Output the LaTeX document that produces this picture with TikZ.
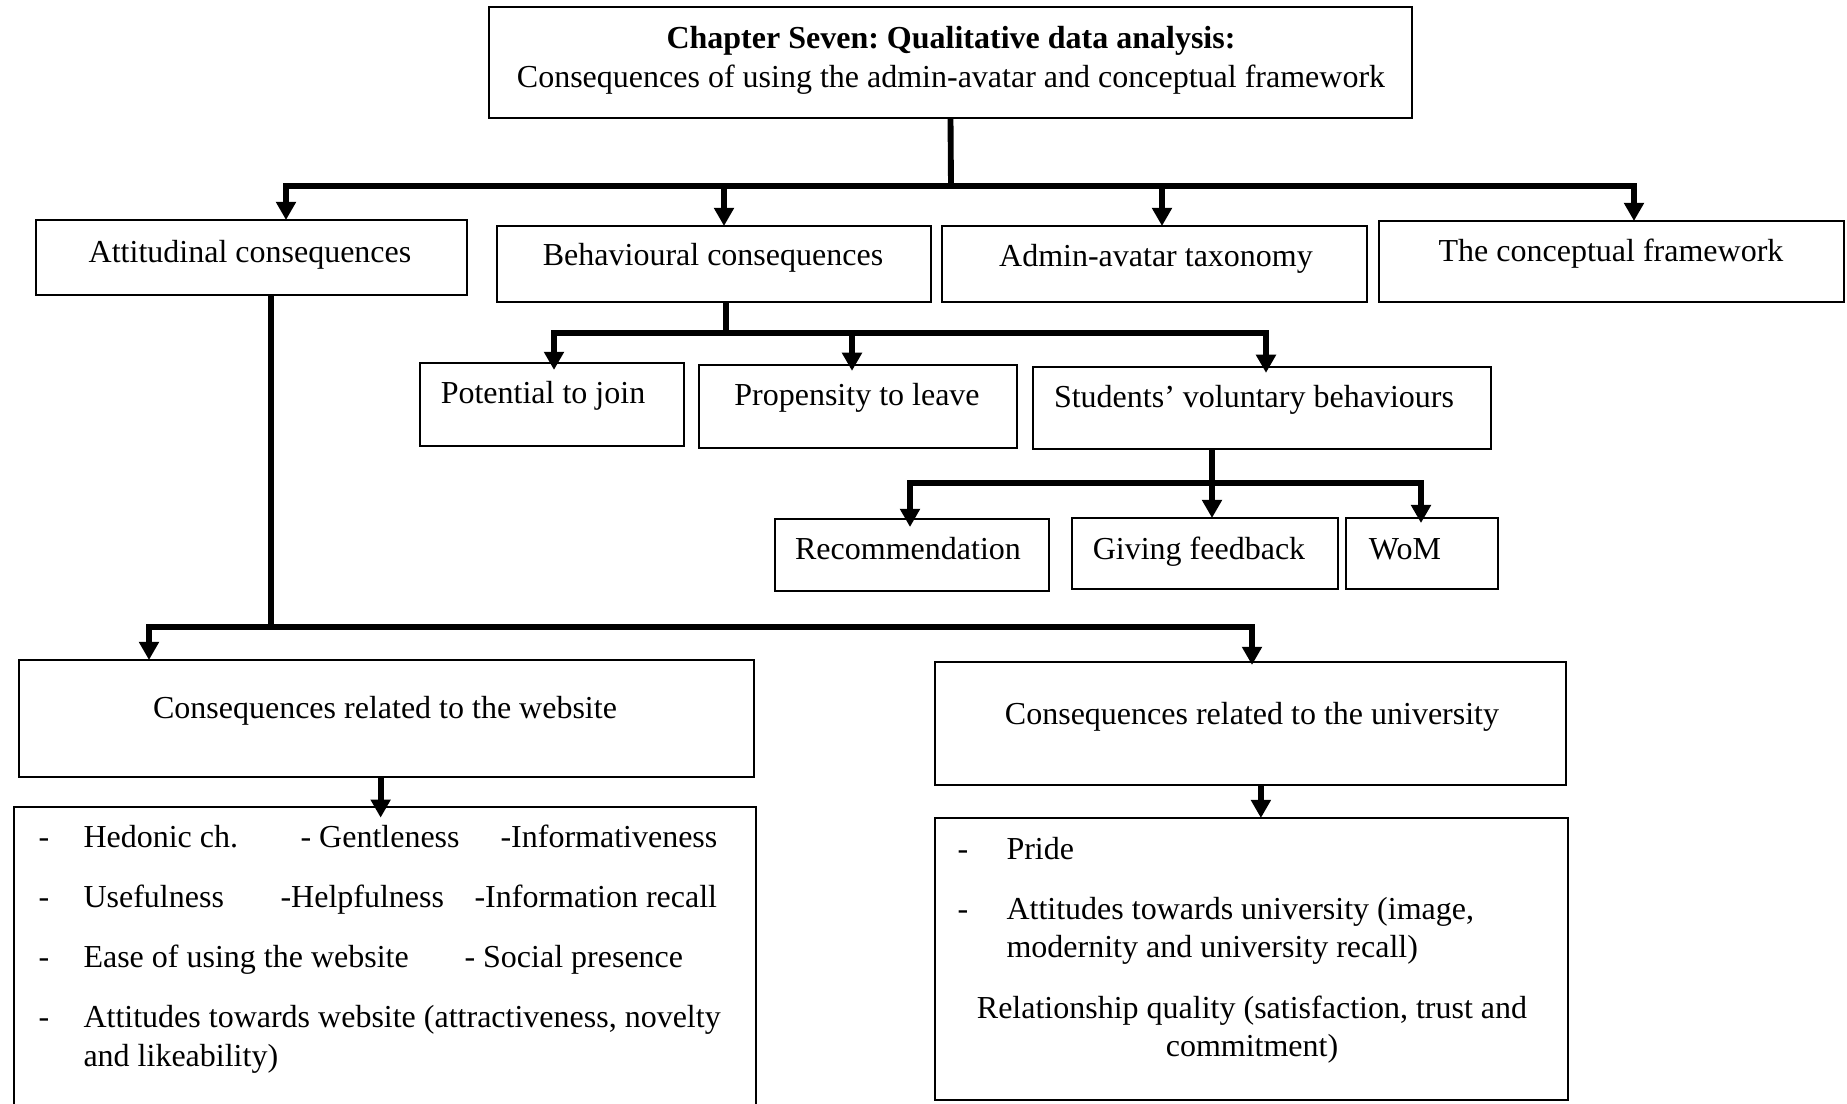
\documentclass[tikz,border=0pt]{standalone}
\usepackage{fontspec}
\setmainfont{Liberation Serif}
\usetikzlibrary{arrows.meta,fit}
\frenchspacing
\begin{document}
\begin{tikzpicture}[x=0.375pt,y=-0.375pt,
  box/.style={draw,line width=0.8pt,inner sep=0pt,outer sep=0pt,rectangle},
  lbl/.style={inner sep=0pt,anchor=base,font=\fontsize{12pt}{14pt}\selectfont},
  lbll/.style={lbl,anchor=base west},
  link/.style={line width=2.2pt},
  arr/.style={link,-{Triangle[width=7.2pt,length=6.8pt]}},
]
\clip (0,0) rectangle (1847,1104);
\fill[white] (0,0) rectangle (1847,1104);

% boxes
\node[box,fit={(489,7) (1412,118)}] (top) {};
\node[box,fit={(36,220) (467,295)}] (att) {};
\node[box,fit={(497,226) (931,302)}] (beh) {};
\node[box,fit={(942,226) (1367,302)}] (adm) {};
\node[box,fit={(1379,221) (1844,302)}] (cfw) {};
\node[box,fit={(420,363) (684,446)}] (pot) {};
\node[box,fit={(699,365) (1017,448)}] (prop) {};
\node[box,fit={(1033,367) (1491,449)}] (stud) {};
\node[box,fit={(775,519) (1049,591)}] (rec) {};
\node[box,fit={(1072,518) (1338,589)}] (fb) {};
\node[box,fit={(1346,518) (1498,589)}] (wom) {};
\node[box,fit={(19,660) (754,777)}] (web) {};
\node[box,fit={(935,662) (1566,785)}] (uni) {};
\node[box,fit={(14,807) (756,1130)}] (webl) {};
\node[box,fit={(935,818) (1568,1100)}] (unil) {};

% box titles
\node[lbl] (topl1) at (951,49) {\bfseries Chapter Seven: Qualitative data analysis:};
\node[lbl] (topl2) at (951,88) {Consequences of using the admin-avatar and conceptual framework};
\node[lbl] (attl) at (250,263) {Attitudinal consequences};
\node[lbl] (behl) at (713,266) {Behavioural consequences};
\node[lbl] (adml) at (1156,267) {Admin-avatar taxonomy};
\node[lbl] (cfwl) at (1611,262) {The conceptual framework};
\node[lbl] (potl) at (543,404) {Potential to join};
\node[lbl] (propl) at (857,406) {Propensity to leave};
\node[lbl] (studl) at (1254,408) {Students’ voluntary behaviours};
\node[lbl] (recl) at (908,560) {Recommendation};
\node[lbl] (fbl) at (1199,560) {Giving feedback};
\node[lbl] (woml) at (1405,560) {WoM};
\node[lbl] (webt) at (385,719) {Consequences related to the website};
\node[lbl] (unit) at (1252,725) {Consequences related to the university};

% website list
\node[lbll] (wd1) at (38,848) {-};
\node[lbll] (wa1) at (83,848) {Hedonic ch.};
\node[lbll] (wb1) at (300,848) {- Gentleness};
\node[lbll] (wc1) at (500,848) {-Informativeness};
\node[lbll] (wd2) at (38,907) {-};
\node[lbll] (wa2) at (83,907) {Usefulness};
\node[lbll] (wb2) at (280,907) {-Helpfulness};
\node[lbll] (wc2) at (474,907) {-Information recall};
\node[lbll] (wd3) at (38,967) {-};
\node[lbll] (wa3) at (83,967) {Ease of using the website};
\node[lbll] (wb3) at (464,967) {- Social presence};
\node[lbll] (wd4) at (38,1027) {-};
\node[lbll] (wa4) at (83,1027) {Attitudes towards website (attractiveness, novelty};
\node[lbll] (wa5) at (83,1066) {and likeability)};

% university list
\node[lbll] (ud1) at (957,859) {-};
\node[lbll] (ua1) at (1006,859) {Pride};
\node[lbll] (ud2) at (957,919) {-};
\node[lbll] (ua2) at (1006,919) {Attitudes towards university (image,};
\node[lbll] (ua3) at (1006,957) {modernity and university recall)};
\node[lbl] (ub1) at (1252,1018) {Relationship quality (satisfaction, trust and};
\node[lbl] (ub2) at (1252,1056) {commitment)};

% connector junctions
\coordinate (b1m) at (951,186);
\coordinate (b1w) at (286,186);
\coordinate (b1e) at (1634,186);
\coordinate (b1b) at (724,186);
\coordinate (b1c) at (1162,186);
\coordinate (b2m) at (726,333);
\coordinate (b2w) at (554,333);
\coordinate (b2e) at (1266,333);
\coordinate (b2p) at (852,333);
\coordinate (b3m) at (1212,483);
\coordinate (b3w) at (910,483);
\coordinate (b3e) at (1421,483);
\coordinate (b4m) at (271,627);
\coordinate (b4w) at (149,627);
\coordinate (b4e) at (1252,627);

% top level
\draw[link] (top.south) -- (b1m);
\draw[arr] (b1m) -- (b1w) -- (att.north -| b1w);
\draw[arr] (b1m) -- (b1e) -- (cfw.north -| b1e);
\draw[arr] (b1b) -- (beh.north -| b1b);
\draw[arr] (b1c) -- (adm.north -| b1c);

% behavioural branch
\draw[link] (beh.south -| b2m) -- (b2m);
\draw[arr,shorten >=-2.6pt] (b2m) -- (b2w) -- (pot.north -| b2w);
\draw[arr,shorten >=-2.2pt] (b2m) -- (b2e) -- (stud.north -| b2e);
\draw[arr,shorten >=-2.2pt] (b2p) -- (prop.north -| b2p);

% voluntary behaviours branch
\draw[link] (stud.south -| b3m) -- (b3m);
\draw[arr] (b3m) -- (fb.north -| b3m);
\draw[arr,shorten >=-3pt] (b3m) -- (b3w) -- (rec.north -| b3w);
\draw[arr,shorten >=-1.9pt] (b3m) -- (b3e) -- (wom.north -| b3e);

% attitudinal branch
\draw[link] (att.south -| b4m) -- (b4m);
\draw[arr] (b4m) -- (b4w) -- (web.north -| b4w);
\draw[arr,shorten >=-1.1pt] (b4m) -- (b4e) -- (uni.north -| b4e);
\draw[arr,shorten >=-4pt] ([xshift=-2.2pt]web.south) -- ([xshift=-2.2pt]web.south |- webl.north);
\draw[arr] ([xshift=3.9pt]uni.south) -- ([xshift=3.9pt]uni.south |- unil.north);
\end{tikzpicture}
\end{document}
